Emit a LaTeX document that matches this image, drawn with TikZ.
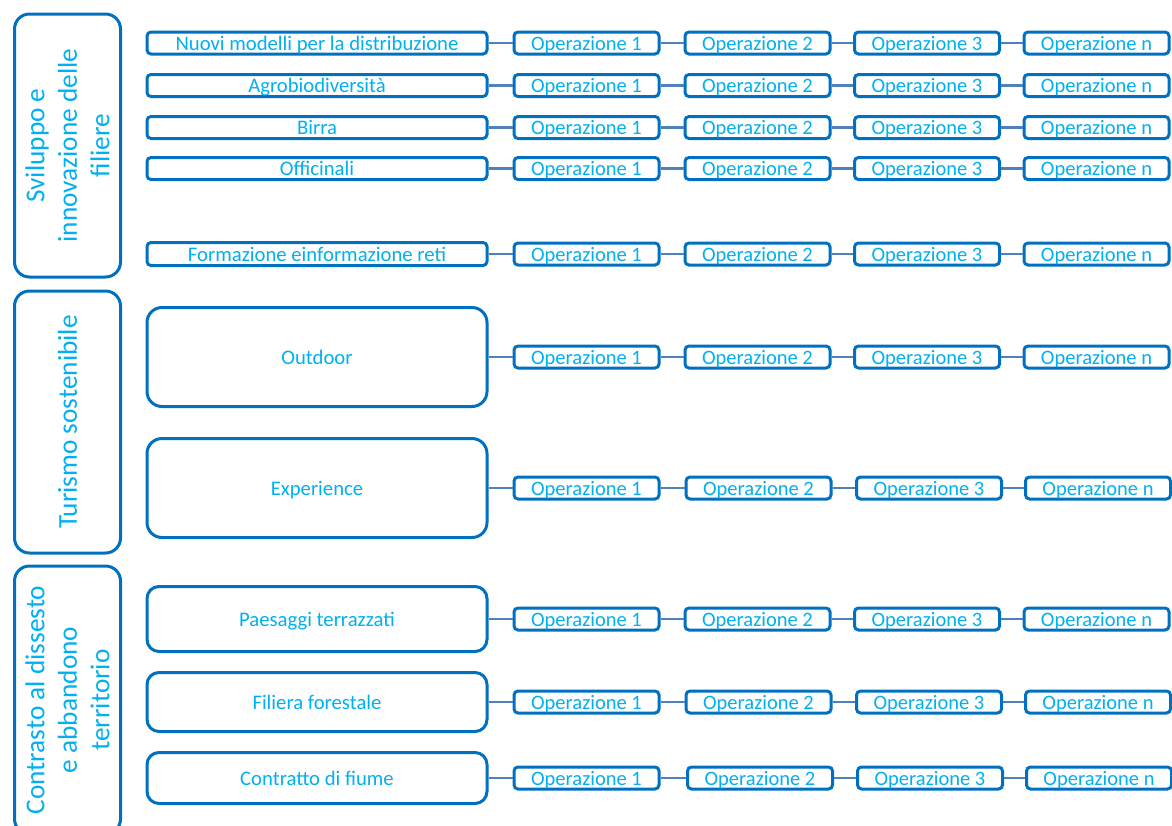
\documentclass[tikz,border=0pt]{standalone}
\usepackage{fontspec}
\setmainfont{Carlito}
\definecolor{boxblue}{HTML}{0070C0}
\definecolor{txtblue}{HTML}{00B0F0}
\definecolor{lineblue}{HTML}{4F81BD}
\tikzset{
  grp/.style={draw=boxblue, line width=3pt, rounded corners=15pt, fill=white, text=txtblue,
    inner sep=0pt, minimum width=106pt},
  grplabel/.style={text=txtblue, rotate=90, align=center, font=\fontsize{27.3}{32.5}\selectfont},
  midbox/.style={draw=boxblue, line width=3pt, fill=white, text=txtblue, inner sep=0pt,
    minimum width=340pt, text depth=0pt, font=\fontsize{20.7}{24}\selectfont},
  opbox/.style={draw=boxblue, line width=3pt, rounded corners=4pt, fill=white, text=txtblue,
    inner sep=0pt, minimum width=145pt, minimum height=22pt, text depth=0pt,
    font=\fontsize{20.5}{24}\selectfont},
  conn/.style={draw=lineblue, line width=2.5pt}
}
\begin{document}
\begin{tikzpicture}[x=1pt,y=-1pt]
\useasboundingbox[fill=white] (0,0) rectangle (1172,825);
% group boxes
\node[grp, minimum height=263pt] (g1) at (67.5,145.5) {};
\node[grplabel] (g1t) at (g1.center) {Sviluppo e\\innovazione delle\\filiere};
\node[grp, minimum height=262pt] (g2) at (67.5,422) {};
\node[grplabel] (g2t) at (g2.center) {Turismo sostenibile};
\node[grp, minimum height=268pt] (g3) at (67.5,700) {};
\node[grplabel] (g3t) at (g3.center) {Contrasto al dissesto\\e abbandono\\territorio};
% middle boxes
\node[midbox, rounded corners=4pt, minimum height=22pt] (m1) at (317,43) {Nuovi modelli per la distribuzione};
\node[midbox, rounded corners=4pt, minimum height=22pt] (m2) at (317,85.5) {Agrobiodiversità};
\node[midbox, rounded corners=4pt, minimum height=22pt] (m3) at (317,127.5) {Birra};
\node[midbox, rounded corners=4pt, minimum height=22pt] (m4) at (317,168.5) {Officinali};
\node[midbox, rounded corners=4pt, minimum height=23pt] (m5) at (317,254) {Formazione einformazione reti};
\node[midbox, rounded corners=15pt, minimum height=99pt] (m6) at (317,357) {Outdoor};
\node[midbox, rounded corners=15pt, minimum height=99pt] (m7) at (317,488) {Experience};
\node[midbox, rounded corners=12pt, minimum height=65pt] (m8) at (317,619) {Paesaggi terrazzati};
\node[midbox, rounded corners=12pt, minimum height=59pt] (m9) at (317,702) {Filiera forestale};
\node[midbox, rounded corners=12pt, minimum height=51pt] (m10) at (317,778) {Contratto di fiume};
% operation rows
\foreach \r/\y/\xb/\xc/\xd in {1/43/757.5/927/1096.5, 2/85.5/757.5/927/1096.5, 3/127.5/757.5/927/1096.5,
  4/168.5/757.5/927/1096.5, 5/254/757.5/927/1096.5, 6/357/757.5/927/1096.5,
  7/488/758.5/929/1098, 8/619/757.5/927/1096.5, 9/702/758.5/929/1098, 10/778/760/930/1099}{
  \node[opbox] (o\r-1) at (586.5,\y) {Operazione 1};
  \node[opbox] (o\r-2) at (\xb,\y) {Operazione 2};
  \node[opbox] (o\r-3) at (\xc,\y) {Operazione 3};
  \node[opbox] (o\r-n) at (\xd,\y) {Operazione n};
  \draw[conn] (m\r.east) -- (o\r-1.west);
  \draw[conn] (o\r-1.east) -- (o\r-2.west);
  \draw[conn] (o\r-2.east) -- (o\r-3.west);
  \draw[conn] (o\r-3.east) -- (o\r-n.west);
}
\end{tikzpicture}
\end{document}
